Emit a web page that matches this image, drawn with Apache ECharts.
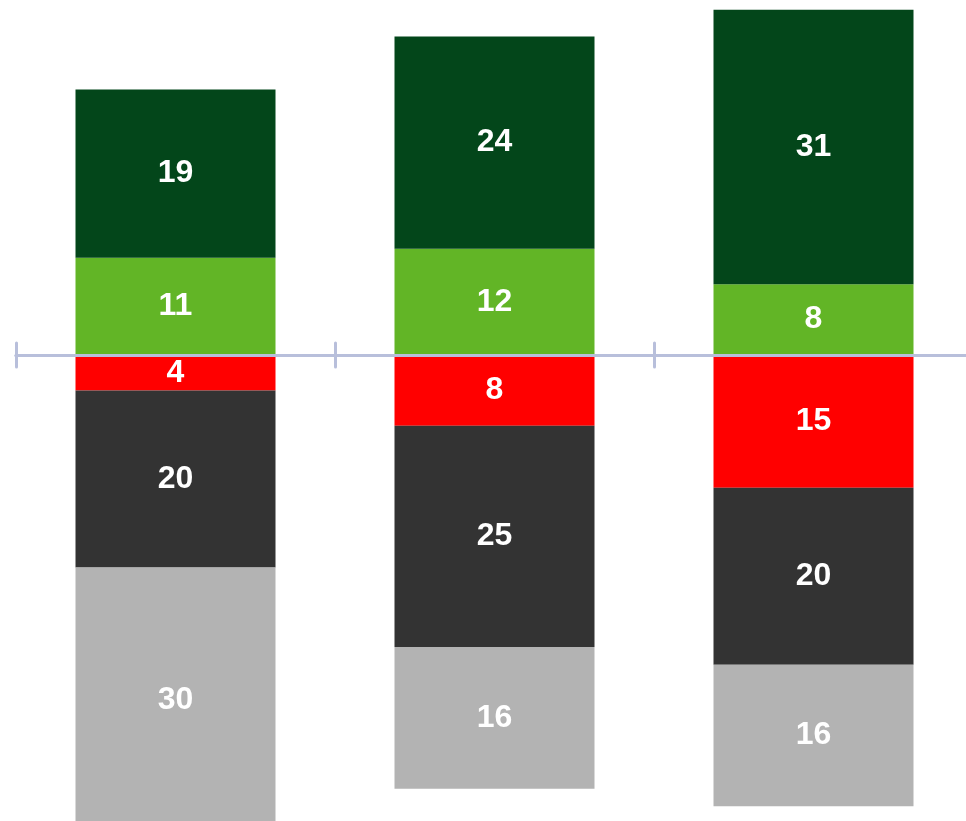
<!DOCTYPE html>
<html>
<head>
<meta charset="utf-8">
<script src="https://cdn.jsdelivr.net/npm/echarts@6/dist/echarts.min.js"></script>
<style>
html,body{margin:0;padding:0;background:#fff;overflow:hidden;}
#c{width:990px;height:890px;}
</style>
</head>
<body>
<div id="c"></div>
<script>
const categories = ['A', 'B', 'C'];
const lightGreen = [11, 12, 8];
const darkGreen = [19, 24, 31];
const red = [-4, -8, -15];
const darkGrey = [-20, -25, -20];
const lightGrey = [-30, -16, -16];

const chart = echarts.init(document.getElementById('c'));
function mk(name, data, color) {
  return {
    name: name, type: 'bar', stack: 'all', data: data, barWidth: 200,
    itemStyle: { color: color },
    label: {
      show: true, position: 'inside', color: '#fff',
      fontFamily: 'Liberation Sans, Arial, sans-serif', fontWeight: 'bold', fontSize: 32,
      formatter: p => Math.abs(p.value)
    }
  };
}
const tickStyle = { color: '#b8bfdb', width: 3, cap: 'round' };
chart.setOption({
  animation: false,
  grid: { left: 16, top: 1, width: 957, height: 885 },
  xAxis: [
    { type: 'category', data: categories, position: 'bottom', z: 10,
      axisLine: { onZero: true, onZeroAxisIndex: 0, lineStyle: { color: '#b8bfdb', width: 3 } },
      axisLabel: { show: false },
      axisTick: { show: true, inside: false, length: 12, lineStyle: tickStyle } },
    { type: 'category', data: categories, position: 'bottom', z: 10,
      axisLine: { onZero: true, onZeroAxisIndex: 1, lineStyle: { color: '#b8bfdb', width: 3 } },
      axisLabel: { show: false },
      axisTick: { show: true, inside: true, length: 12, lineStyle: tickStyle } }
  ],
  yAxis: [
    { type: 'value', min: -60, max: 40, show: false, splitLine: { show: false } },
    { type: 'value', min: -60, max: 40, show: false, splitLine: { show: false } }
  ],
  series: [
    mk('lg', lightGreen, '#62b526'),
    mk('dg', darkGreen, '#03461a'),
    mk('r', red, '#ff0000'),
    mk('dgr', darkGrey, '#333333'),
    mk('lgr', lightGrey, '#b3b3b3')
  ]
});
</script>
</body>
</html>
